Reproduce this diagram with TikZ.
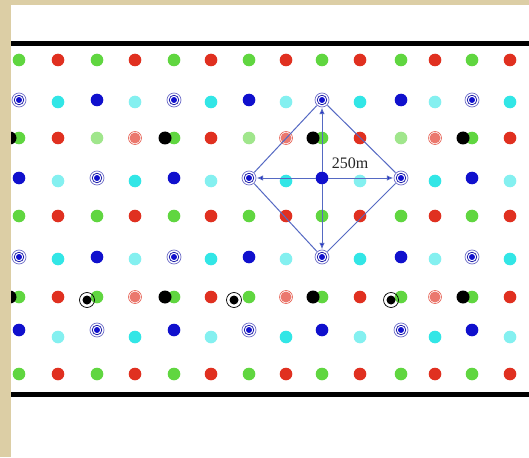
\documentclass[tikz,border=0pt]{standalone}
\usepackage{fontspec}
\setmainfont{Liberation Serif}
\usepackage{xcolor}
\usetikzlibrary{arrows.meta}

\definecolor{dotgreen}{RGB}{96,214,64}
\definecolor{dotred}{RGB}{224,48,32}
\definecolor{dotblue}{RGB}{16,16,205}
\definecolor{dotcyan}{RGB}{50,230,230}
\definecolor{linkblue}{RGB}{85,105,195}
\definecolor{frame}{RGB}{220,206,165}

\begin{document}
\begin{tikzpicture}[x=1pt,y=-1pt,
  gr/.style={fill=dotgreen},
  grf/.style={fill=dotgreen!60},
  rd/.style={fill=dotred},
  bl/.style={fill=dotblue},
  cy/.style={fill=dotcyan},
  cyf/.style={fill=dotcyan!60},
  ringbl/.style={draw=dotblue!80!black,line width=0.7pt},
  link/.style={draw=linkblue,line width=1pt},
  arr/.style={link,-{Latex[length=6.5pt,width=5.5pt,fill=dotblue]}},
  vtx/.style={circle,inner sep=0pt,minimum size=15pt},
  lbl/.style={font=\fontsize{16}{16}\selectfont,text=black!85}]
  \useasboundingbox (0,0) rectangle (529,457);
  \fill[white] (0,0) rectangle (529,457);

  % green / red rows
  \foreach \y in {60,216,374}{
    \foreach \x in {19,97,174,249,322,401,472} \fill[gr] (\x,\y) circle (6.3pt);
    \foreach \x in {58,135,211,286,360,435,510} \fill[rd] (\x,\y) circle (6.3pt);
  }

  % blue / cyan rows (ringed first)
  \foreach \y in {100,257}{
    \foreach \x in {19,174,322,472}{
      \fill[bl] (\x,\y) circle (3pt);
      \draw[ringbl] (\x,\y) circle (4.8pt);
      \draw[ringbl,draw opacity=0.6] (\x,\y) circle (7pt);
    }
    \foreach \x in {58,211,360,510} \fill[cy] (\x,\y+2) circle (6.3pt);
    \foreach \x in {97,249,401} \fill[bl] (\x,\y) circle (6.3pt);
    \foreach \x in {135,286,435} \fill[cyf] (\x,\y+2) circle (6.3pt);
  }

  % blue / cyan rows (blue first)
  \foreach \y/\dy in {178/3,330/7}{
    \foreach \x in {19,174,322,472} \fill[bl] (\x,\y) circle (6.3pt);
    \foreach \x in {58,211,360,510} \fill[cyf] (\x,\y+\dy) circle (6.3pt);
    \foreach \x in {97,249,401}{
      \fill[bl] (\x,\y) circle (3pt);
      \draw[ringbl] (\x,\y) circle (4.8pt);
      \draw[ringbl,draw opacity=0.6] (\x,\y) circle (7pt);
    }
    \foreach \x in {135,286,435} \fill[cy] (\x,\y+\dy) circle (6.3pt);
  }

  % rows with black dots
  \foreach \y in {138,297}{
    \foreach \x in {19,174,322,472}{
      \fill[gr] (\x,\y) circle (6.3pt);
      \fill[black] (\x-9,\y) circle (6.5pt);
    }
    \foreach \x in {58,211,360,510} \fill[rd] (\x,\y) circle (6.3pt);
    \foreach \x in {135,286,435}{
      \fill[dotred!65] (\x,\y) circle (5.5pt);
      \draw[dotred!80,line width=0.6pt] (\x,\y) circle (6.5pt);
    }
  }
  \foreach \x in {97,249,401} \fill[grf] (\x,138) circle (6.3pt);
  \foreach \x/\bx in {97/87,249/234,401/391}{
    \fill[gr] (\x,297) circle (6.3pt);
    \fill[black] (\bx,300) circle (4.5pt);
    \draw[black,line width=0.7pt] (\bx,300) circle (7.5pt);
  }

  % spacing diamond
  \node[vtx] (top) at (322,100) {};
  \node[vtx] (lft) at (249,178) {};
  \node[vtx] (rgt) at (401,178) {};
  \node[vtx] (bot) at (322,257) {};
  \node[circle,inner sep=0pt,minimum size=12pt] (ctr) at (322,178) {};
  \draw[link] (top) -- (lft) -- (bot) -- (rgt) -- (top);
  \draw[arr] (ctr) -- (top);
  \draw[arr] (ctr) -- (lft);
  \draw[arr] (ctr) -- (rgt);
  \draw[arr] (ctr) -- (bot);
  \node[lbl] (dist) at (350,163) {250m};

  % rails
  \draw[line width=5pt] (11,44) -- (529,44);
  \draw[line width=5pt] (11,394) -- (529,394);

  % frame
  \fill[frame] (0,0) rectangle (11,457);
  \fill[frame] (0,0) rectangle (529,5);
\end{tikzpicture}
\end{document}
